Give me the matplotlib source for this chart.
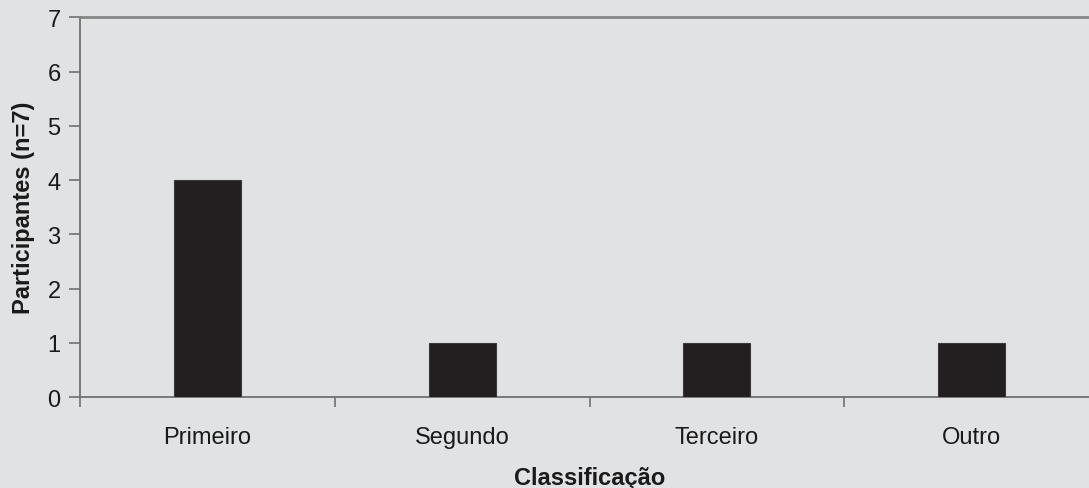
import matplotlib
matplotlib.use("Agg")
import matplotlib.pyplot as plt
import numpy as np

categories = ["Primeiro", "Segundo", "Terceiro", "Outro"]
participants = [4, 1, 1, 1]
y_ticks = [0, 1, 2, 3, 4, 5, 6, 7]

plt.rcParams["font.family"] = ["Liberation Sans", "DejaVu Sans"]

bg = "#e1e2e4"
fig = plt.figure(figsize=(10.89, 4.89), dpi=100, facecolor=bg)
ax = fig.add_axes([0.0735, 0.186, 0.9357, 0.7765], facecolor=bg)

x = np.arange(len(categories))
ax.bar(x, participants, width=0.263, color="#231f20", edgecolor="#3a3a3a",
       linewidth=0.8, zorder=3)

ax.set_xlim(-0.5, len(categories) - 0.5)
ax.set_ylim(0, 7)
ax.set_yticks(y_ticks)
ax.tick_params(axis="y", direction="out", length=8, width=1.2, color="#707070",
               labelsize=17, pad=6, labelcolor="#1a1a1a")

# Category labels centred, tick marks on the boundaries between categories
ax.set_xticks(x)
ax.set_xticklabels(categories)
ax.set_xticks(np.arange(len(categories) + 1) - 0.5, minor=True)
ax.tick_params(axis="x", which="major", length=0, labelsize=17, pad=21,
               labelcolor="#1a1a1a")
ax.tick_params(axis="x", which="minor", direction="out", length=7, width=1.2,
               color="#707070")

for side in ["left", "bottom", "top"]:
    ax.spines[side].set_color("#707070")
    ax.spines[side].set_linewidth(1.3)
ax.spines["top"].set_color("#858585")
ax.spines["top"].set_linewidth(2)
ax.spines["right"].set_visible(False)

ax.set_xlabel("Classificação", fontsize=17, fontweight="bold", labelpad=13,
              color="#1a1a1a")
ax.set_ylabel("Participantes (n=7)", fontsize=17, fontweight="bold", labelpad=9,
              color="#1a1a1a")

fig.savefig("out.png", dpi=100, facecolor=bg)
